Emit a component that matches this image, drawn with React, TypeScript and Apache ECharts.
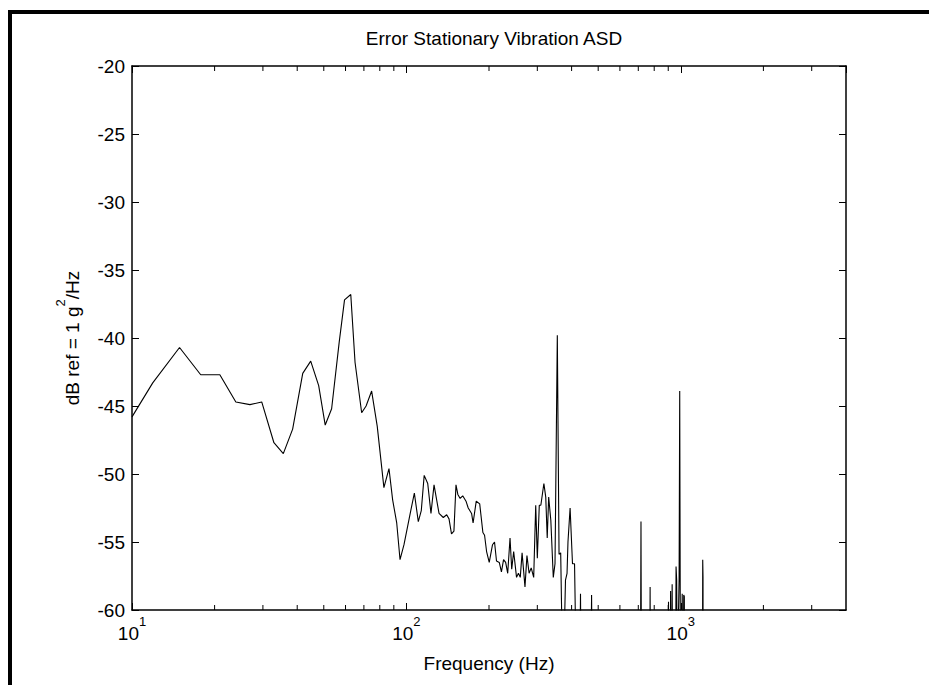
import React, { useEffect, useRef } from "react";
import * as echarts from "echarts";

// Frequency (Hz) of each ASD point
const freqHz = [
  10, 11.9, 14.9, 17.8, 20.9, 23.9, 26.9, 29.7, 32.9, 35.6, 38.5, 41.9, 44.8, 47.9, 50.6, 53.4, 56.9, 59.5,
  62.7, 65, 68.7, 71.3, 74.7, 78.3, 82.8, 86.4, 89.1, 92.2, 94.8, 98, 103, 106.9, 110.5, 113.3, 116.1, 119.6,
  122.9, 126.1, 131.5, 136.3, 140.2, 143, 146, 149, 151.6, 154, 157, 160.4, 164.9, 168, 172.8, 175, 179.7,
  185, 190, 192.7, 196, 200.4, 206, 209.5, 213, 218, 222, 226, 230, 234, 238.6, 242, 246, 252, 256, 260,
  264, 270.5, 275, 280, 285, 291, 296, 300, 305, 309, 317, 322, 326, 330, 336, 343, 348, 354.8, 360, 365,
  372, 380, 385, 388, 395, 403, 410, 420, 426, 431, 435, 468, 473, 478, 710, 716, 721, 768, 773, 778, 897,
  902, 906, 913, 918, 925, 930, 936, 955, 961, 966, 971, 986, 991, 996, 1005, 1012, 1018, 1025, 1030, 1036,
  1197, 1202, 1205, 1208, 1300, 2000,
];

// ASD level, dB ref 1 g^2/Hz
const asdDb = [
  -45.8, -43.3, -40.7, -42.7, -42.7, -44.7, -44.9, -44.7, -47.7, -48.5, -46.7, -42.6, -41.7, -43.5, -46.4,
  -45.2, -40.3, -37.2, -36.8, -41.8, -45.5, -45.0, -43.9, -46.5, -51.0, -49.6, -51.9, -53.6, -56.3, -55.2,
  -53.0, -51.4, -53.5, -52.7, -50.1, -50.7, -52.9, -50.8, -52.9, -53.2, -53.0, -53.3, -54.4, -54.2, -50.8,
  -51.5, -51.8, -51.6, -52.0, -52.5, -52.9, -53.6, -52.0, -52.2, -54.3, -54.5, -55.7, -56.5, -55.2, -55.0,
  -56.4, -56.5, -57.2, -56.3, -56.5, -57.3, -54.7, -57.0, -55.7, -57.6, -57.3, -57.6, -55.8, -58.3, -56.0,
  -57.3, -56.9, -57.6, -52.3, -56.2, -52.3, -52.3, -50.7, -51.7, -54.7, -51.7, -53.4, -57.6, -56.6, -39.8,
  -55.9, -55.8, -66, -57.8, -57.3, -55.0, -52.5, -56.6, -56.6, -70, -70, -58.8, -70, -70, -58.9, -70, -75,
  -53.5, -75, -75, -58.3, -75, -75, -59.4, -72, -70, -58.6, -70, -58.1, -70, -72, -56.8, -57.8, -65, -57.7,
  -43.9, -62, -65, -58.8, -68, -58.9, -59.0, -75, -75, -56.3, -57.6, -80, -80, -80,
];

// Minor (unlabelled) frequency ticks
const minorTicksHz = [20, 30, 40, 50, 60, 70, 80, 90, 200, 300, 400, 500, 600, 700, 800, 900, 2000, 3000];

const titleText = "Error Stationary Vibration ASD";
const xName = "Frequency (Hz)";
const FONT = "Liberation Sans, Arial, Helvetica, sans-serif";

export default function App() {
  const ref = useRef<HTMLDivElement>(null);

  useEffect(() => {
    if (!ref.current) return;
    const chart = echarts.init(ref.current, undefined, { renderer: "svg" });
    const data = freqHz.map((f, i) => [f, asdDb[i]]);
    const xMin = 10;
    const xMax = 4000;
    const yMin = -60;
    const yMax = -20;

    const supRich = {
      b: { fontSize: 19, fontFamily: FONT, color: "#000", lineHeight: 28, verticalAlign: "bottom" },
      s: { fontSize: 13, fontFamily: FONT, color: "#000", lineHeight: 13, verticalAlign: "top" },
    };

    const option: any = {
      animation: false,
      backgroundColor: "#fff",
      title: {
        text: titleText,
        left: 489,
        top: 24,
        textAlign: "center",
        textStyle: { fontFamily: FONT, fontSize: 19, fontWeight: "normal", color: "#000" },
      },
      graphic: [
        { type: "rect", shape: { x: 8, y: 10, width: 4, height: 675 }, style: { fill: "#000" } },
        { type: "rect", shape: { x: 8, y: 10, width: 921, height: 4 }, style: { fill: "#000" } },
      ],
      grid: { left: 132, right: 83, top: 66, bottom: 75, containLabel: false },
      xAxis: [
        {
          type: "log",
          logBase: 10,
          min: xMin,
          max: xMax,
          position: "bottom",
          name: xName,
          nameLocation: "middle",
          nameGap: 44,
          nameTextStyle: { fontFamily: FONT, fontSize: 19, color: "#000" },
          axisLine: { show: true, onZero: false, lineStyle: { color: "#000", width: 1.5 } },
          axisTick: { show: true, inside: true, length: 7, lineStyle: { color: "#000", width: 1 } },
          axisLabel: {
            show: true,
            margin: 5,
            showMaxLabel: false,
            formatter: (v: number) => `{b|10}{s|${Math.round(Math.log10(v))}}`,
            rich: supRich,
          },
          splitLine: { show: false },
          minorTick: { show: false },
        },
        {
          type: "log",
          logBase: 10,
          min: xMin,
          max: xMax,
          position: "top",
          axisLine: { show: true, onZero: false, lineStyle: { color: "#000", width: 1.5 } },
          axisTick: { show: true, inside: true, length: 7, lineStyle: { color: "#000", width: 1 } },
          axisLabel: { show: false },
          splitLine: { show: false },
        },
      ],
      yAxis: [
        {
          type: "value",
          min: yMin,
          max: yMax,
          interval: 5,
          position: "left",
          name: "{a|dB ref = 1 g}{s|2}{a|/Hz}",
          nameLocation: "middle",
          nameRotate: 90,
          nameGap: 50,
          nameTextStyle: { rich: {
            a: { fontSize: 19, fontFamily: FONT, color: "#000", lineHeight: 28, verticalAlign: "bottom" },
            s: { fontSize: 13, fontFamily: FONT, color: "#000", lineHeight: 13, verticalAlign: "top" },
          } },
          axisLine: { show: true, onZero: false, lineStyle: { color: "#000", width: 1.5 } },
          axisTick: { show: true, inside: true, length: 7, lineStyle: { color: "#000", width: 1 } },
          axisLabel: { show: true, margin: 7, fontFamily: FONT, fontSize: 19, color: "#000" },
          splitLine: { show: false },
        },
        {
          type: "value",
          min: yMin,
          max: yMax,
          interval: 5,
          position: "right",
          axisLine: { show: true, onZero: false, lineStyle: { color: "#000", width: 1.5 } },
          axisTick: { show: true, inside: true, length: 7, lineStyle: { color: "#000", width: 1 } },
          axisLabel: { show: false },
          splitLine: { show: false },
        },
      ],
      series: [
        {
          type: "line",
          xAxisIndex: 0,
          yAxisIndex: 0,
          data,
          showSymbol: false,
          symbol: "none",
          clip: true,
          lineStyle: { color: "#000", width: 1.1 },
          silent: true,
        },
        {
          type: "custom",
          xAxisIndex: 0,
          yAxisIndex: 0,
          silent: true,
          clip: false,
          data: minorTicksHz.map((v) => [v, yMin]),
          encode: { x: 0, y: 1 },
          renderItem: (params: any, api: any) => {
            const x = api.coord([api.value(0), yMin])[0];
            const yb = api.coord([api.value(0), yMin])[1];
            const yt = api.coord([api.value(0), yMax])[1];
            return {
              type: "group",
              children: [
                { type: "line", shape: { x1: x, y1: yb, x2: x, y2: yb - 5 }, style: { stroke: "#000", lineWidth: 1 } },
                { type: "line", shape: { x1: x, y1: yt, x2: x, y2: yt + 5 }, style: { stroke: "#000", lineWidth: 1 } },
              ],
            };
          },
        },
      ],
    };
    chart.setOption(option);
    return () => chart.dispose();
  }, []);

  return (
    <div
      ref={ref}
      style={{ position: "absolute", left: 0, top: 0, width: 929, height: 685, background: "#fff" }}
    />
  );
}
